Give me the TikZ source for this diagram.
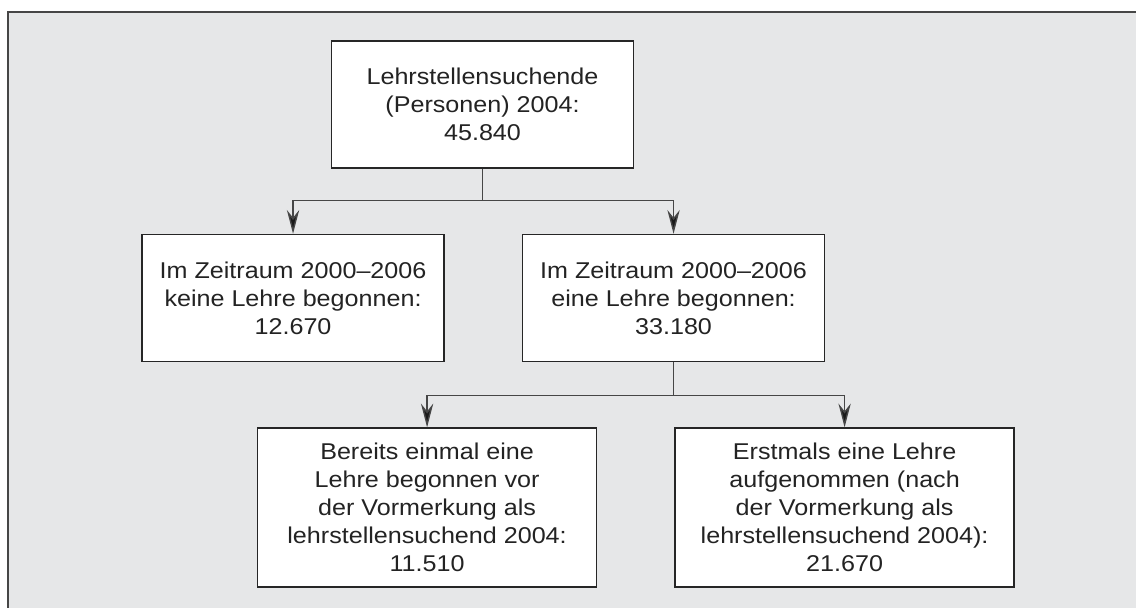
\documentclass[tikz,border=0pt]{standalone}
\usepackage{fontspec}
\setmainfont{Liberation Sans}[FakeStretch=1.1]
\usepackage{xcolor}
\usetikzlibrary{arrows.meta, positioning}

\definecolor{panelgray}{RGB}{230,231,232}
\definecolor{linegray}{RGB}{70,70,70}
\definecolor{textgray}{RGB}{35,35,35}

\begin{document}
\begin{tikzpicture}[
    x=0.02cm, y=-0.02cm,
    box/.style={rectangle, draw=black!85, fill=white, line width=0.9pt, minimum width=6.04cm, minimum height=2.54cm, align=center, text=textgray, font=\fontsize{13}{16}\selectfont, inner sep=0pt},
    bigbox/.style={box, minimum width=6.78cm, minimum height=3.18cm},
    arrow/.style={-{Stealth[length=13.5pt, width=7pt, fill=black!90]}, draw=linegray, line width=0.8pt}
]
\useasboundingbox (0,0) rectangle (1136,608);

% Panel background
\fill[panelgray] (8,12) rectangle (1136,608);
\draw[linegray, line width=1.1pt] (1136,12) -- (8,12) -- (8,608);

% Top
\node[box] (total) at (482.5,104.5) {Lehrstellensuchende\\(Personen) 2004:\\45.840};

% Middle row
\node[box, below=1.3cm of total, xshift=-3.79cm] (keine) {Im Zeitraum 2000--2006\\keine Lehre begonnen:\\12.670};
\node[box, right=1.54cm of keine] (eine) {Im Zeitraum 2000--2006\\eine Lehre begonnen:\\33.180};

% Bottom row
\node[bigbox, below=1.3cm of eine, xshift=-4.93cm] (bereits) {Bereits einmal eine\\Lehre begonnen vor\\der Vormerkung als\\lehrstellensuchend 2004:\\11.510};
\node[bigbox, right=1.54cm of bereits] (erstmals) {Erstmals eine Lehre\\aufgenommen (nach\\der Vormerkung als\\lehrstellensuchend 2004):\\21.670};

% Arrows
\draw[arrow] (total.south) -- ++(0,-0.64cm) -| (keine);
\draw[arrow] (total.south) -- ++(0,-0.64cm) -| (eine);
\draw[arrow] (eine.south) -- ++(0,-0.66cm) -| (bereits);
\draw[arrow] (eine.south) -- ++(0,-0.66cm) -| (erstmals);

\end{tikzpicture}
\end{document}
